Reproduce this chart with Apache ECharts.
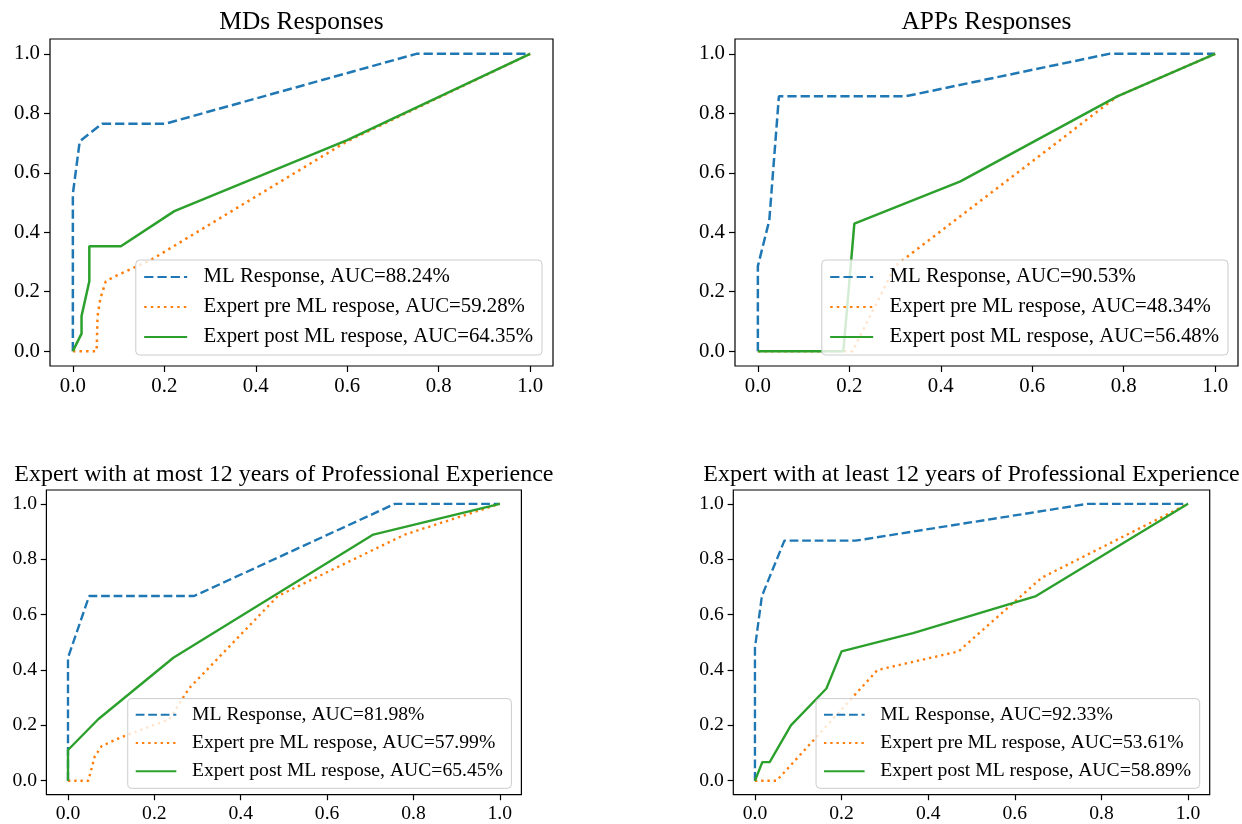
<!DOCTYPE html>
<html>
<head>
<meta charset="utf-8">
<script src="https://cdn.jsdelivr.net/npm/echarts@6/dist/echarts.min.js"></script>
<style>
html,body{margin:0;padding:0;background:#fff;}
#chart{width:1242px;height:824px;}
</style>
</head>
<body>
<div id="chart"></div>
<script>
// ---- data ----
const panelTitles = [
  'MDs Responses',
  'APPs Responses',
  'Expert with at most 12 years of Professional Experience',
  'Expert with at least 12 years of Professional Experience'
];
const tickValues = [0, 0.2, 0.4, 0.6, 0.8, 1.0];

const mlNames = ['ML Response, AUC=88.24%', 'ML Response, AUC=90.53%', 'ML Response, AUC=81.98%', 'ML Response, AUC=92.33%'];
const preNames = ['Expert pre ML respose, AUC=59.28%', 'Expert pre ML respose, AUC=48.34%', 'Expert pre ML respose, AUC=57.99%', 'Expert pre ML respose, AUC=53.61%'];
const postNames = ['Expert post ML respose, AUC=64.35%', 'Expert post ML respose, AUC=56.48%', 'Expert post ML respose, AUC=65.45%', 'Expert post ML respose, AUC=58.89%'];

// MDs
const ml1X = [0, 0, 0.015, 0.064, 0.202, 0.751, 1.0];
const ml1Y = [0, 0.529, 0.706, 0.765, 0.765, 1.0, 1.0];
const pre1X = [0, 0.052, 0.054, 0.06, 0.072, 0.09, 0.17, 0.6, 1.0];
const pre1Y = [0, 0, 0.118, 0.176, 0.235, 0.25, 0.306, 0.706, 1.0];
const post1X = [0, 0.019, 0.019, 0.036, 0.036, 0.105, 0.222, 0.6, 1.0];
const post1Y = [0, 0.059, 0.118, 0.235, 0.353, 0.353, 0.471, 0.71, 1.0];
// APPs
const ml2X = [0, 0, 0.025, 0.046, 0.322, 0.768, 1.0];
const ml2Y = [0, 0.286, 0.44, 0.857, 0.857, 1.0, 1.0];
const pre2X = [0, 0.207, 0.3, 0.786, 1.0];
const pre2Y = [0, 0, 0.286, 0.857, 1.0];
const post2X = [0, 0.187, 0.211, 0.443, 0.786, 1.0];
const post2Y = [0, 0, 0.429, 0.571, 0.857, 1.0];
// at most 12 years
const ml3X = [0, 0, 0.049, 0.292, 0.757, 1.0];
const ml3Y = [0, 0.444, 0.667, 0.667, 1.0, 1.0];
const pre3X = [0, 0.047, 0.062, 0.078, 0.12, 0.235, 0.28, 0.486, 0.78, 1.0];
const pre3Y = [0, 0, 0.088, 0.125, 0.155, 0.222, 0.333, 0.667, 0.889, 1.0];
const post3X = [0, 0, 0.07, 0.244, 0.707, 1.0];
const post3Y = [0, 0.111, 0.222, 0.444, 0.889, 1.0];
// at least 12 years
const ml4X = [0, 0, 0.016, 0.068, 0.232, 0.768, 1.0];
const ml4Y = [0, 0.48, 0.667, 0.867, 0.867, 1.0, 1.0];
const pre4X = [0, 0.05, 0.283, 0.47, 0.662, 1.0];
const pre4Y = [0, 0, 0.4, 0.467, 0.733, 1.0];
const post4X = [0, 0.017, 0.034, 0.083, 0.165, 0.2, 0.365, 0.649, 1.0];
const post4Y = [0, 0.067, 0.067, 0.2, 0.333, 0.467, 0.533, 0.667, 1.0];

const mlData = [[ml1X, ml1Y], [ml2X, ml2Y], [ml3X, ml3Y], [ml4X, ml4Y]];
const preData = [[pre1X, pre1Y], [pre2X, pre2Y], [pre3X, pre3Y], [pre4X, pre4Y]];
const postData = [[post1X, post1Y], [post2X, post2Y], [post3X, post3Y], [post4X, post4Y]];

// ---- layout / style ----
const FONT = 'Liberation Serif';
const grids = [
  {left: 50, top: 39, width: 503, height: 327},
  {left: 735, top: 39, width: 503, height: 327},
  {left: 46.4, top: 490, width: 475, height: 309},
  {left: 733.3, top: 490, width: 476.4, height: 309}
];
// the bottom row is drawn at a slightly smaller scale than the top row
const scales = [1, 1, 0.944, 0.944];
const legendPos = [
  {right: 700, bottom: 469},
  {right: 14, bottom: 469},
  {right: 730.6, bottom: 35.7},
  {right: 42.3, bottom: 35.7}
];
const titleTops = [10, 10, 463, 463];

function pts(xs, ys) { return xs.map((x, i) => [x, ys[i]]); }

const option = {
  animation: false,
  backgroundColor: '#fff',
  title: grids.map((g, i) => ({
    text: panelTitles[i],
    left: g.left + g.width / 2,
    top: titleTops[i],
    textAlign: 'center',
    padding: 0,
    textStyle: {fontFamily: FONT, fontSize: 25.4 * scales[i], fontWeight: 'normal', color: '#000', lineHeight: 25.4 * scales[i]}
  })),
  grid: grids.map(g => Object.assign({show: true, borderColor: '#000', borderWidth: 1.2, containLabel: false}, g)),
  xAxis: grids.map((g, i) => ({
    type: 'value', gridIndex: i, min: -0.05, max: 1.05,
    splitLine: {show: false},
    axisLine: {show: false, onZero: false},
    axisTick: {show: true, inside: false, length: 6 * scales[i], customValues: tickValues, lineStyle: {color: '#000', width: 1.2}},
    axisLabel: {customValues: tickValues, formatter: v => v.toFixed(1), margin: 10 * scales[i],
      fontFamily: FONT, fontSize: 20.8 * scales[i], color: '#000'}
  })),
  yAxis: grids.map((g, i) => ({
    type: 'value', gridIndex: i, min: -0.05, max: 1.05,
    splitLine: {show: false},
    axisLine: {show: false, onZero: false},
    axisTick: {show: true, inside: false, length: 6 * scales[i], customValues: tickValues, lineStyle: {color: '#000', width: 1.2}},
    axisLabel: {customValues: tickValues, formatter: v => v.toFixed(1), margin: 10 * scales[i],
      fontFamily: FONT, fontSize: 20.8 * scales[i], color: '#000'}
  })),
  legend: grids.map((g, i) => {
    const s = scales[i];
    return Object.assign({
      data: [mlNames[i], preNames[i], postNames[i]],
      orient: 'vertical',
      itemWidth: 43 * s, itemHeight: 14 * s, itemGap: 8 * s,
      padding: [6 * s, 9 * s, 7 * s, 7.4 * s],
      backgroundColor: 'rgba(255,255,255,0.8)',
      borderColor: '#cccccc', borderWidth: 1, borderRadius: 4,
      selectedMode: false,
      itemStyle: {opacity: 0},
      textStyle: {fontFamily: FONT, fontSize: 20.8 * s, color: '#000', lineHeight: 22 * s, padding: [0, 0, 0, 12 * s - 0.6]}
    }, legendPos[i]);
  }),
  series: []
};

for (let i = 0; i < 4; i++) {
  const s = scales[i];
  option.series.push({
    name: mlNames[i], type: 'line', xAxisIndex: i, yAxisIndex: i,
    data: pts(mlData[i][0], mlData[i][1]), symbol: 'none', showSymbol: false,
    lineStyle: {color: '#1f77b4', width: 2.5 * s, type: [9.25 * s, 4 * s], cap: 'butt'},
    itemStyle: {color: '#1f77b4'}
  });
  option.series.push({
    name: preNames[i], type: 'line', xAxisIndex: i, yAxisIndex: i,
    data: pts(preData[i][0], preData[i][1]), symbol: 'none', showSymbol: false,
    lineStyle: {color: '#ff7f0e', width: 2.5 * s, type: [2.5 * s, 4.1 * s], cap: 'butt'},
    itemStyle: {color: '#ff7f0e'}
  });
  option.series.push({
    name: postNames[i], type: 'line', xAxisIndex: i, yAxisIndex: i,
    data: pts(postData[i][0], postData[i][1]), symbol: 'none', showSymbol: false,
    lineStyle: {color: '#2ca02c', width: 2.5 * s, type: 'solid'},
    itemStyle: {color: '#2ca02c'}
  });
}

const chart = echarts.init(document.getElementById('chart'), null, {renderer: 'canvas'});
chart.setOption(option);
</script>
</body>
</html>
